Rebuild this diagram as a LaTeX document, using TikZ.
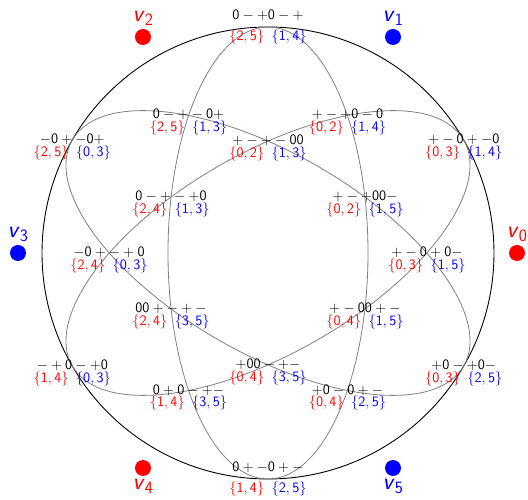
\documentclass[tikz,border=0pt]{standalone}
\usepackage{amsmath}
\usetikzlibrary{positioning}

\newcommand{\sgn}[1]{$\mathsf{#1}$}
\newcommand{\sets}[2]{\textcolor{red}{$\{\mathsf{#1}\}$}\enspace\textcolor{blue}{$\{\mathsf{#2}\}$}}
\newcommand{\vname}[1]{\textsf{\textsl{v}}$_{\mathsf{#1}}$}

\begin{document}
\begin{tikzpicture}[
    x=1pt, y=1pt,
    cell/.style={align=center, inner sep=0pt, text=black, font=\fontsize{15}{12.5}\selectfont, yshift=-7pt},
    rimcell/.style={cell, yshift=7pt},
    vdot/.style={circle, fill, inner sep=0pt, minimum size=16pt},
    vlabel/.style={inner sep=0pt, font=\fontsize{24}{24}\selectfont},
    ell/.style={gray, line width=0.8pt}
]
    \useasboundingbox (-268,-247) rectangle (260,253);
    \coordinate (O) at (0,0);

    % Circle and ellipses
    \draw[line width=0.9pt] (O) circle (226);
    \foreach \r in {0,60,-60}
        \draw[ell, rotate=\r] (O) ellipse [x radius=100, y radius=226];

    % Vertices
    \node[vdot, red] (d0) at (249,0) {};
    \node[vdot, blue] (d1) at (125,216) {};
    \node[vdot, red] (d2) at (-125,216) {};
    \node[vdot, blue] (d3) at (-250,0) {};
    \node[vdot, red] (d4) at (-125,-215) {};
    \node[vdot, blue] (d5) at (125,-215) {};
    \node[vlabel, red, above=3pt of d0] (v0) {\vname{0}};
    \node[vlabel, blue, above=3pt of d1] (v1) {\vname{1}};
    \node[vlabel, red, above=3pt of d2] (v2) {\vname{2}};
    \node[vlabel, blue, above=3pt of d3] (v3) {\vname{3}};
    \node[vlabel, red, below=3pt of d4] (v4) {\vname{4}};
    \node[vlabel, blue, below=3pt of d5] (v5) {\vname{5}};

    % Points on the circle
    \node[rimcell] (t90) at (90:226) {\sgn{0-+0-+}\\[8pt]\sets{2,5}{1,4}};
    \node[rimcell] (t270) at (270:226) {\sgn{0+-0+-}\\[8pt]\sets{1,4}{2,5}};
    \node[cell] (t30) at (30:226) {\sgn{+-0+-0}\\\sets{0,3}{1,4}};
    \node[cell] (t150) at (150:226) {\sgn{-0+-0+}\\\sets{2,5}{0,3}};
    \node[cell] (t210) at (210:226) {\sgn{-+0-+0}\\\sets{1,4}{0,3}};
    \node[cell] (t330) at (330:226) {\sgn{+0-+0-}\\\sets{0,3}{2,5}};

    % Outer crossings
    \node[cell] (o0) at (0:159) {\sgn{+-0+0-}\\\sets{0,3}{1,5}};
    \node[cell] (o60) at (60:159) {\sgn{+-+0-0}\\\sets{0,2}{1,4}};
    \node[cell] (o120) at (120:159) {\sgn{0-+-0+}\\\sets{2,5}{1,3}};
    \node[cell] (o180) at (180:159) {\sgn{-0+-+0}\\\sets{2,4}{0,3}};
    \node[cell] (o240) at (240:159) {\sgn{0+0-+-}\\\sets{1,4}{3,5}};
    \node[cell] (o300) at (300:159) {\sgn{+0-0+-}\\\sets{0,4}{2,5}};

    % Inner crossings
    \node[cell] (i30) at (30:112) {\sgn{+-+00-}\\\sets{0,2}{1,5}};
    \node[cell] (i90) at (90:112) {\sgn{+-+-00}\\\sets{0,2}{1,3}};
    \node[cell] (i150) at (150:112) {\sgn{0-+-+0}\\\sets{2,4}{1,3}};
    \node[cell] (i210) at (210:112) {\sgn{00+-+-}\\\sets{2,4}{3,5}};
    \node[cell] (i270) at (270:112) {\sgn{+00-+-}\\\sets{0,4}{3,5}};
    \node[cell] (i330) at (330:112) {\sgn{+-00+-}\\\sets{0,4}{1,5}};
\end{tikzpicture}
\end{document}
